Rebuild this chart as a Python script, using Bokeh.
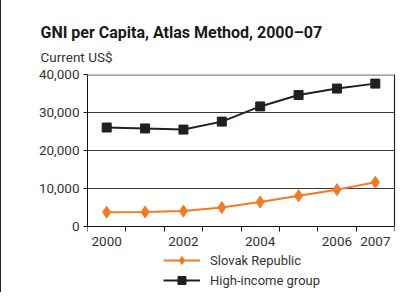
from bokeh.plotting import figure
from bokeh.embed import file_html
from bokeh.resources import INLINE
from bokeh.models import (FixedTicker, NumeralTickFormatter, Span, Title,
                          Legend, LegendItem, Range1d, LinearAxis)

years = [2000, 2001, 2002, 2003, 2004, 2005, 2006, 2007]
slovak = [3770, 3800, 4050, 5000, 6450, 8100, 9700, 11650]
high_income = [26050, 25800, 25500, 27600, 31600, 34600, 36300, 37600]
x_tick_labels = {2000: "2000", 2001: "", 2002: "2002", 2003: "", 2004: "2004",
                 2005: "", 2006: "2006", 2007: "2007"}
y_ticks = [0, 10000, 20000, 30000, 40000]

title_text = "GNI per Capita, Atlas Method, 2000\u201307"
subtitle_text = "Current US$"

FONT = "Roboto"
ORANGE = "#F47920"
BLACK = "#231F20"
TXT = "#333333"

Y_MIN, Y_MAX = 0, 40000
Y_VIEW_MIN = -17368  # extra room below the axis for tick labels and legend

p = figure(width=399, height=292, output_backend="svg", toolbar_location=None,
           title=None,
           x_range=Range1d(years[0] - 0.5, years[-1] + 0.5),
           y_range=Range1d(Y_VIEW_MIN, Y_MAX),
           min_border_left=86, min_border_right=6,
           min_border_top=74, min_border_bottom=0)
p.styles = {"border-left": "1.5px solid #222"}

p.outline_line_color = None
p.background_fill_color = None
p.xgrid.grid_line_color = None
p.ygrid.grid_line_color = "#3a3a3a"
p.ygrid.grid_line_width = 1

# axes
xa = p.xaxis[0]
xa.fixed_location = 0
xa.ticker = FixedTicker(ticks=years, minor_ticks=[y - 0.5 for y in years] + [years[-1] + 0.5])
xa.major_label_overrides = x_tick_labels
xa.major_tick_line_color = None
xa.major_tick_out = 5
xa.major_tick_in = 0
xa.minor_tick_line_color = "#111111"
xa.minor_tick_out = 5
xa.minor_tick_in = 0
xa.axis_line_color = "#111111"
xa.major_label_standoff = 5

ya = p.yaxis[0]
ya.ticker = FixedTicker(ticks=y_ticks)
ya.bounds = (Y_MIN, Y_MAX)
ya.formatter = NumeralTickFormatter(format="0,0")
ya.major_tick_out = 4
ya.major_tick_in = 0
ya.minor_tick_line_color = None
ya.major_tick_line_color = "#111111"
ya.axis_line_color = "#111111"
ya.major_label_standoff = 4

for ax in (xa, ya):
    ax.major_label_text_font = FONT
    ax.major_label_text_font_size = "13.5px"
    ax.major_label_text_color = TXT

# right frame edge as a bare axis
ra = LinearAxis(bounds=(Y_MIN, Y_MAX), ticker=FixedTicker(ticks=[]),
                axis_line_color="#222222", axis_line_width=1.2,
                major_tick_line_color=None, minor_tick_line_color=None,
                major_label_text_font_size="0px")
p.add_layout(ra, "right")

# top frame edge
p.add_layout(Span(location=Y_MAX, dimension="width", line_color="#8c8c8c", line_width=2.5))

# series
l1 = p.line(years, slovak, line_color=ORANGE, line_width=2)
s1 = p.scatter(years, slovak, marker="diamond", size=12, fill_color=ORANGE, line_color=ORANGE)
l2 = p.line(years, high_income, line_color=BLACK, line_width=2)
s2 = p.scatter(years, high_income, marker="square", size=9, fill_color=BLACK, line_color=BLACK)

legend = Legend(items=[LegendItem(label="Slovak Republic", renderers=[l1, s1]),
                       LegendItem(label="High-income group", renderers=[l2, s2])],
                location=(76, 2), orientation="vertical",
                padding=0, margin=0, spacing=0,
                glyph_width=37, glyph_height=20, label_height=20,
                label_standoff=10,
                label_text_font=FONT, label_text_font_size="13px",
                label_text_color=TXT,
                border_line_color=None, background_fill_alpha=0)
p.add_layout(legend, "center")

p.add_layout(Title(text=subtitle_text, align="left", offset=-47, standoff=19,
                   text_font=FONT, text_font_style="normal", text_font_size="13.5px",
                   text_color=TXT), "above")
p.add_layout(Title(text=title_text, align="left", offset=-47, standoff=-8,
                   text_font=FONT, text_font_style="bold", text_font_size="16px",
                   text_color="#1a1a1a"), "above")

open("out.html", "w").write(file_html(p, INLINE))
